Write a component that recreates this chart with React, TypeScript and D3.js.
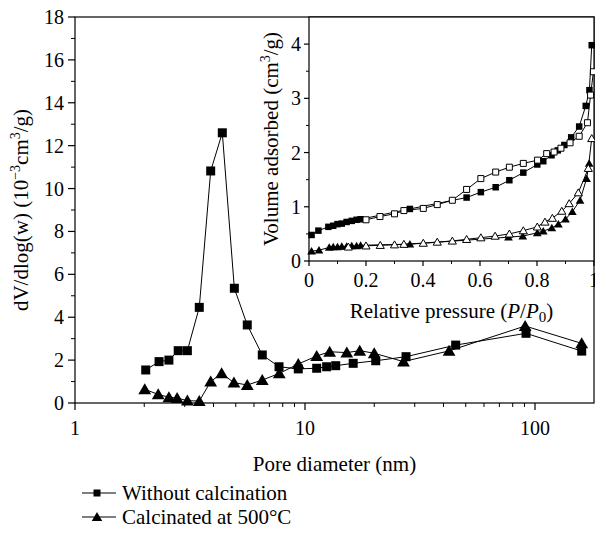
import React from 'react';
import * as d3 from 'd3';

// main plot: pore size distribution
const poreNoCalc = [2.03, 2.32, 2.56, 2.81, 3.08, 3.47, 3.89, 4.37, 4.93, 5.61, 6.52, 7.71, 9.35, 11.24, 12.42, 13.6, 16.2, 20.3, 27.5, 45.2, 91.4, 159.6];
const psdNoCalc = [1.54, 1.93, 2.0, 2.44, 2.44, 4.46, 10.82, 12.6, 5.35, 3.64, 2.24, 1.69, 1.59, 1.62, 1.69, 1.74, 1.85, 1.97, 2.16, 2.7, 3.25, 2.42];
const poreCalc = [2.01, 2.3, 2.56, 2.78, 3.08, 3.47, 3.89, 4.34, 4.91, 5.61, 6.52, 7.73, 9.35, 11.24, 12.8, 15.2, 17.3, 20.0, 26.8, 42.3, 90.6, 159.6];
const psdCalc = [0.64, 0.4, 0.27, 0.23, 0.11, 0.09, 1.0, 1.38, 0.95, 0.84, 1.07, 1.38, 1.82, 2.19, 2.39, 2.35, 2.44, 2.32, 1.93, 2.43, 3.59, 2.78];

// inset: isotherms
const pAdsNoCalc = [0.009, 0.033, 0.068, 0.085, 0.1, 0.115, 0.132, 0.15, 0.167, 0.181, 0.354, 0.553, 0.603, 0.655, 0.703, 0.752, 0.801, 0.822, 0.851, 0.873, 0.896, 0.92, 0.948, 0.971, 0.984, 0.992];
const vAdsNoCalc = [0.48, 0.56, 0.63, 0.65, 0.68, 0.69, 0.72, 0.74, 0.76, 0.77, 0.96, 1.17, 1.27, 1.36, 1.49, 1.63, 1.78, 1.84, 1.95, 2.04, 2.14, 2.28, 2.48, 2.86, 3.15, 3.98];
const pDesNoCalc = [0.2, 0.249, 0.3, 0.333, 0.401, 0.45, 0.503, 0.553, 0.603, 0.655, 0.703, 0.752, 0.802, 0.834, 0.86, 0.884, 0.916, 0.948, 0.977, 0.988, 0.998];
const vDesNoCalc = [0.76, 0.82, 0.87, 0.93, 0.97, 1.04, 1.12, 1.32, 1.52, 1.64, 1.73, 1.8, 1.86, 1.98, 2.01, 2.08, 2.18, 2.3, 2.55, 3.06, 3.49];
const pAdsCalc = [0.009, 0.035, 0.071, 0.085, 0.1, 0.115, 0.132, 0.15, 0.167, 0.181, 0.354, 0.7, 0.75, 0.801, 0.822, 0.852, 0.875, 0.9, 0.924, 0.951, 0.974, 0.983];
const vAdsCalc = [0.18, 0.2, 0.25, 0.26, 0.26, 0.27, 0.27, 0.28, 0.28, 0.29, 0.31, 0.44, 0.46, 0.52, 0.55, 0.61, 0.68, 0.77, 0.91, 1.12, 1.52, 1.8];
const pDesCalc = [0.138, 0.2, 0.25, 0.3, 0.333, 0.401, 0.45, 0.503, 0.553, 0.603, 0.653, 0.703, 0.752, 0.801, 0.828, 0.854, 0.887, 0.913, 0.945, 0.98, 0.992];
const vDesCalc = [0.26, 0.28, 0.29, 0.3, 0.31, 0.33, 0.35, 0.37, 0.4, 0.43, 0.46, 0.5, 0.56, 0.63, 0.72, 0.79, 0.92, 1.06, 1.26, 1.71, 2.26];

const xMajor = [1, 10, 100];
const yMainTicks = [0, 2, 4, 6, 8, 10, 12, 14, 16, 18];
const insetXTicks = [0, 0.2, 0.4, 0.6, 0.8, 1];
const insetYTicks = [0, 1, 2, 3, 4];
const legendLabels = ['Without calcination', 'Calcinated at 500\u00B0C'];

const FONT = "'Liberation Serif', 'Times New Roman', 'DejaVu Serif', serif";

const W = 595, H = 540;
const m = { left: 75, right: 594, top: 17, bottom: 403 };
const ins = { left: 309, right: 594, top: 17, bottom: 261 };

const x = d3.scaleLog().domain([1, Math.pow(10, (m.right - m.left) / 230)]).range([m.left, m.right]);
const y = d3.scaleLinear().domain([0, 18]).range([m.bottom, m.top]);
const xi = d3.scaleLinear().domain([0, 1]).range([ins.left, ins.right]);
const yi = d3.scaleLinear().domain([0, 4.5]).range([ins.bottom, ins.top]);

const sq = (s: number) => `M${-s / 2},${-s / 2}h${s}v${s}h${-s}Z`;
const tri = (s: number) => `M0,${-s * 0.55}L${s * 0.58},${s * 0.45}L${-s * 0.58},${s * 0.45}Z`;

const zip = (a: number[], b: number[]) => a.map((v, i) => [v, b[i]] as [number, number]);

function Series({ pts, sx, sy, shape, size, open }: any) {
  const line = d3.line<[number, number]>().x((d) => sx(d[0])).y((d) => sy(d[1]));
  return (
    <g>
      <path d={line(pts) || ''} fill="none" stroke="#000" strokeWidth={1} />
      {pts.map((d: [number, number], i: number) => (
        <path
          key={i}
          transform={`translate(${sx(d[0])},${sy(d[1])})`}
          d={shape === 'sq' ? sq(size) : tri(size)}
          fill={open ? '#fff' : '#000'}
          stroke="#000"
          strokeWidth={open ? 1 : 0}
        />
      ))}
    </g>
  );
}

export default function App() {
  const minorX: number[] = [];
  [1, 10, 100].forEach((dec) => {
    for (let k = 2; k <= 9; k++) if (dec * k <= x.domain()[1]) minorX.push(dec * k);
  });
  const minorY = d3.range(1, 18, 2);
  const insMinorX = d3.range(0.1, 1, 0.2);
  const insMinorY = d3.range(0.5, 4.5, 1);

  return (
    <svg width={W} height={H} style={{ position: 'absolute', left: 0, top: 0, background: '#fff' }} fontFamily={FONT}>
      {/* main frame */}
      <rect x={m.left} y={m.top} width={m.right - m.left} height={m.bottom - m.top} fill="#fff" stroke="#000" strokeWidth={1.2} />

      {/* main x axis */}
      {xMajor.map((t) => (
        <g key={t}>
          <line x1={x(t)} x2={x(t)} y1={m.bottom} y2={m.bottom + 7} stroke="#000" strokeWidth={1.2} />
          <text x={x(t)} y={435} textAnchor="middle" fontSize={20}>{t}</text>
        </g>
      ))}
      {minorX.map((t) => (
        <line key={t} x1={x(t)} x2={x(t)} y1={m.bottom} y2={m.bottom + 4} stroke="#000" />
      ))}
      <text x={(m.left + m.right) / 2} y={471} textAnchor="middle" fontSize={21}>Pore diameter (nm)</text>

      {/* main y axis */}
      {yMainTicks.map((t) => (
        <g key={t}>
          <line x1={m.left - 7} x2={m.left} y1={y(t)} y2={y(t)} stroke="#000" strokeWidth={1.2} />
          <text x={64} y={y(t) + 7} textAnchor="end" fontSize={20}>{t}</text>
        </g>
      ))}
      {minorY.map((t) => (
        <line key={t} x1={m.left - 4} x2={m.left} y1={y(t)} y2={y(t)} stroke="#000" />
      ))}
      <text transform={`translate(28,${(m.top + m.bottom) / 2}) rotate(-90)`} textAnchor="middle" fontSize={21}>
        dV/dlog(w) (10<tspan dy={-8} fontSize={14}>{'\u22123'}</tspan>
        <tspan dy={8}>cm</tspan>
        <tspan dy={-8} fontSize={14}>3</tspan>
        <tspan dy={8}>/g)</tspan>
      </text>

      <Series pts={zip(poreNoCalc, psdNoCalc)} sx={x} sy={y} shape="sq" size={9} />
      <Series pts={zip(poreCalc, psdCalc)} sx={x} sy={y} shape="tri" size={11} />

      {/* inset */}
      <rect x={ins.left} y={ins.top} width={ins.right - ins.left} height={ins.bottom - ins.top} fill="#fff" stroke="#000" strokeWidth={1.2} />
      {insetXTicks.map((t) => (
        <g key={t}>
          <line x1={xi(t)} x2={xi(t)} y1={ins.bottom} y2={ins.bottom + 5} stroke="#000" strokeWidth={1.2} />
          <text x={xi(t)} y={287} textAnchor="middle" fontSize={20}>{t}</text>
        </g>
      ))}
      {insMinorX.map((t) => (
        <line key={t} x1={xi(t)} x2={xi(t)} y1={ins.bottom} y2={ins.bottom + 3} stroke="#000" />
      ))}
      {insetYTicks.map((t) => (
        <g key={t}>
          <line x1={ins.left - 5} x2={ins.left} y1={yi(t)} y2={yi(t)} stroke="#000" strokeWidth={1.2} />
          <text x={301} y={yi(t) + 7} textAnchor="end" fontSize={20}>{t}</text>
        </g>
      ))}
      {insMinorY.map((t) => (
        <line key={t} x1={ins.left - 3} x2={ins.left} y1={yi(t)} y2={yi(t)} stroke="#000" />
      ))}
      <text transform={`translate(278,${(ins.top + ins.bottom) / 2}) rotate(-90)`} textAnchor="middle" fontSize={21}>
        Volume adsorbed (cm<tspan dy={-8} fontSize={14}>3</tspan>
        <tspan dy={8}>/g)</tspan>
      </text>
      <text x={(ins.left + ins.right) / 2} y={318} textAnchor="middle" fontSize={21}>
        Relative pressure (<tspan fontStyle="italic">P</tspan>/<tspan fontStyle="italic">P</tspan>
        <tspan dy={4} fontSize={15}>0</tspan>
        <tspan dy={-4}>)</tspan>
      </text>

      <Series pts={zip(pAdsNoCalc, vAdsNoCalc)} sx={xi} sy={yi} shape="sq" size={6.5} />
      <Series pts={zip(pDesNoCalc, vDesNoCalc)} sx={xi} sy={yi} shape="sq" size={6} open />
      <Series pts={zip(pAdsCalc, vAdsCalc)} sx={xi} sy={yi} shape="tri" size={7.5} />
      <Series pts={zip(pDesCalc, vDesCalc)} sx={xi} sy={yi} shape="tri" size={7} open />

      {/* legend */}
      {legendLabels.map((lab, i) => {
        const ly = 493 + i * 24;
        return (
          <g key={lab}>
            <line x1={82} x2={116} y1={ly} y2={ly} stroke="#000" strokeWidth={1.2} />
            <path transform={`translate(97,${ly})`} d={i === 0 ? sq(7) : tri(9)} fill="#000" />
            <text x={122} y={ly + 7} fontSize={21}>{lab}</text>
          </g>
        );
      })}
    </svg>
  );
}
